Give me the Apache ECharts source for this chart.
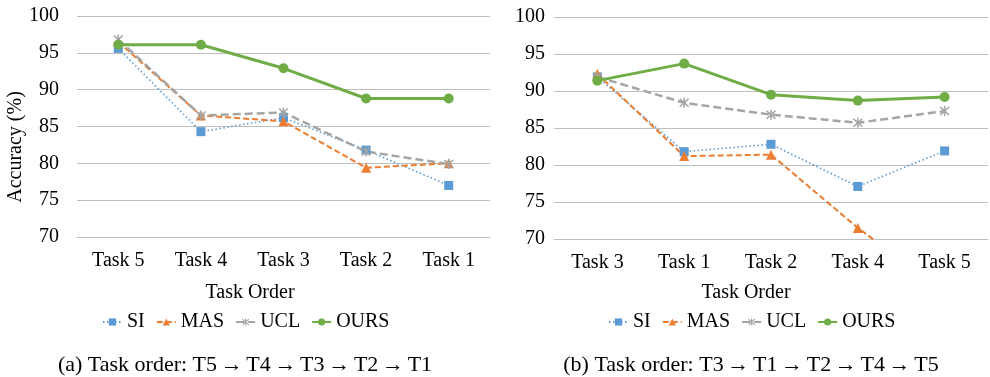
<!DOCTYPE html>
<html>
<head>
<meta charset="utf-8">
<script src="https://cdn.jsdelivr.net/npm/echarts@6/dist/echarts.min.js"></script>
<style>
  html, body { margin: 0; padding: 0; background: #fff; }
  #chart { width: 990px; height: 377px; }
</style>
</head>
<body>
<div id="chart"></div>
<script>
// Panel (a): task order T5 -> T4 -> T3 -> T2 -> T1
const categoriesA = ['Task 5', 'Task 4', 'Task 3', 'Task 2', 'Task 1'];
const siA   = [95.6, 84.3, 86.2, 81.8, 77.0];
const masA  = [96.5, 86.5, 85.7, 79.4, 80.0];
const uclA  = [96.8, 86.5, 86.9, 81.6, 79.9];
const oursA = [96.1, 96.1, 92.9, 88.8, 88.8];

// Panel (b): task order T3 -> T1 -> T2 -> T4 -> T5
const categoriesB = ['Task 3', 'Task 1', 'Task 2', 'Task 4', 'Task 5'];
const siB   = [91.9, 81.8, 82.8, 77.1, 81.9];
const masB  = [92.3, 81.2, 81.4, 71.5, 62.9];
const uclB  = [91.9, 88.4, 86.8, 85.7, 87.3];
const oursB = [91.4, 93.7, 89.5, 88.7, 89.2];

const yTicks = [70, 75, 80, 85, 90, 95, 100];
const methodNames = ['SI', 'MAS', 'UCL', 'OURS'];
const ARROW = '\u2006\u2192\u2006';
const captionA = '(a) Task order: ' + ['T5', 'T4', 'T3', 'T2', 'T1'].join(ARROW);
const captionB = '(b) Task order: ' + ['T3', 'T1', 'T2', 'T4', 'T5'].join(ARROW);
const xTitle = 'Task Order';
const yTitle = 'Accuracy (%)';

const FONT = "'Liberation Serif', 'Times New Roman', serif";
const TEXT = '#000';
const GRIDLINE = '#BFBFBF';

// asterisk marker used for UCL
const starPath = 'path://M4.3 0L5.7 0L5.7 10L4.3 10Z M0.5 1.5L1.5 0.5L9.5 8.5L8.5 9.5Z M8.5 0.5L9.5 1.5L1.5 9.5L0.5 8.5Z';

const styles = {
  SI:   { color: '#5B9BD5', symbol: 'rect', size: 9, line: { width: 1.6, type: [1.5, 2.5] } },
  MAS:  { color: '#ED7D31', symbol: 'triangle', size: 10, line: { width: 2, type: [6, 3] } },
  UCL:  { color: '#A5A5A5', symbol: starPath, size: 10, line: { width: 2.5, type: [8, 4] } },
  OURS: { color: '#70AD47', symbol: 'circle', size: 10, line: { width: 3, type: 'solid' } }
};

function makeSeries(name, data, idx) {
  const s = styles[name];
  return {
    name: name,
    type: 'line',
    xAxisIndex: idx,
    yAxisIndex: idx,
    data: data,
    symbol: s.symbol,
    symbolSize: s.size,
    showSymbol: true,
    clip: true,
    itemStyle: { color: s.color, borderWidth: 0 },
    lineStyle: { color: s.color, width: s.line.width, type: s.line.type },
    emphasis: { disabled: true },
    animation: false
  };
}

function xAxisCfg(cats, idx) {
  return {
    type: 'category',
    gridIndex: idx,
    data: cats,
    boundaryGap: true,
    axisLine: { show: true, lineStyle: { color: GRIDLINE, width: 1 } },
    axisTick: { show: false },
    axisLabel: { fontFamily: FONT, fontSize: 20, color: TEXT, margin: 14 }
  };
}

function yAxisCfg(idx, margin) {
  return {
    type: 'value',
    gridIndex: idx,
    min: yTicks[0],
    max: yTicks[yTicks.length - 1],
    interval: yTicks[1] - yTicks[0],
    axisLine: { show: false },
    axisTick: { show: false },
    splitLine: { lineStyle: { color: GRIDLINE, width: 1 } },
    axisLabel: { fontFamily: FONT, fontSize: 20, color: TEXT, margin: margin }
  };
}

function legendCfg(left) {
  return {
    data: methodNames,
    left: left,
    top: 312,
    padding: 0,
    itemWidth: 19,
    itemHeight: 9,
    itemGap: 11,
    textStyle: { fontFamily: FONT, fontSize: 20, color: TEXT }
  };
}

function label(text, x, y, size, rotation) {
  return {
    type: 'text',
    x: x,
    y: y,
    rotation: rotation || 0,
    style: {
      text: text,
      fontFamily: FONT,
      fontSize: size,
      fill: TEXT,
      textAlign: 'center',
      textVerticalAlign: 'middle',
      align: 'center',
      verticalAlign: 'middle'
    }
  };
}

const chart = echarts.init(document.getElementById('chart'), null, { renderer: 'canvas' });
chart.setOption({
  animation: false,
  backgroundColor: '#fff',
  grid: [
    { left: 77, right: 500, top: 16, bottom: 140 },
    { left: 554, right: 2, top: 17, bottom: 138 }
  ],
  xAxis: [xAxisCfg(categoriesA, 0), xAxisCfg(categoriesB, 1)],
  yAxis: [yAxisCfg(0, 18), yAxisCfg(1, 9)],
  legend: [legendCfg(102), legendCfg(608)],
  series: [
    makeSeries('SI', siA, 0),
    makeSeries('MAS', masA, 0),
    makeSeries('UCL', uclA, 0),
    makeSeries('OURS', oursA, 0),
    makeSeries('SI', siB, 1),
    makeSeries('MAS', masB, 1),
    makeSeries('UCL', uclB, 1),
    makeSeries('OURS', oursB, 1)
  ],
  graphic: [
    label(yTitle, 16, 147, 20, Math.PI / 2),
    label(xTitle, 250, 293, 20),
    label(xTitle, 746, 293, 20),
    label(captionA, 245, 365, 22),
    label(captionB, 751, 365, 22)
  ]
});
</script>
</body>
</html>
